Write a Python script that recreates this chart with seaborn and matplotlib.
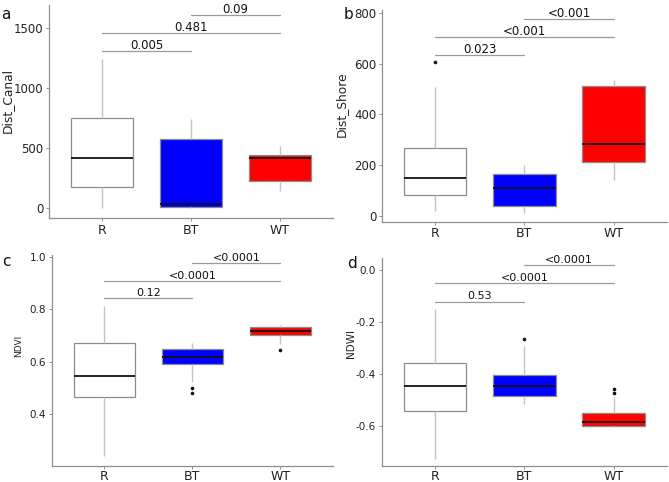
import numpy as np
import pandas as pd
import matplotlib
matplotlib.use("Agg")
import matplotlib.pyplot as plt
import seaborn as sns

sns.set_theme(style="white")
plt.rcParams["font.family"] = ["DejaVu Sans"]
plt.rcParams["axes.unicode_minus"] = False

groups = ["R", "BT", "WT"]
palette = {"R": "#FFFFFF", "BT": "#0000FF", "WT": "#FF0000"}

# Sample values per group chosen so that box quartiles, whiskers and outliers
# match the reference boxes
canal_R = [0, 90, 178, 300, 414, 580, 747, 1000, 1242]
canal_BT = [0, 3, 6, 20, 33, 300, 572, 650, 742]
canal_WT = [142, 190, 228, 320, 418, 430, 442, 480, 519]

shore_R = [20, 40, 60, 82, 100, 125, 150, 190, 230, 266, 380, 507, 606]
shore_BT = [12, 25, 40, 75, 108, 135, 164, 180, 200]
shore_WT = [141, 180, 211, 250, 282, 400, 514, 525, 536]

ndvi_R = [0.239, 0.35, 0.465, 0.5, 0.545, 0.6, 0.673, 0.75, 0.813]
ndvi_BT = [0.479, 0.498, 0.523, 0.590, 0.60, 0.61, 0.619, 0.63, 0.64, 0.6475, 0.66, 0.665, 0.673]
ndvi_WT = [0.646, 0.668, 0.69, 0.702, 0.708, 0.713, 0.718, 0.723, 0.728, 0.732, 0.736, 0.739, 0.742]

ndwi_R = [-0.727, -0.62, -0.541, -0.49, -0.446, -0.4, -0.359, -0.25, -0.151]
ndwi_BT = [-0.517, -0.505, -0.495, -0.486, -0.47, -0.455, -0.447, -0.43, -0.415, -0.405, -0.35, -0.292, -0.267]
ndwi_WT = [-0.605, -0.603, -0.601, -0.599, -0.593, -0.588, -0.583, -0.57, -0.56, -0.551, -0.487, -0.475, -0.459]

# pairwise comparisons: (group a, group b, p label)
comp_pairs = [("R", "BT"), ("R", "WT"), ("BT", "WT")]
p_canal = ["0.005", "0.481", "0.09"]
p_shore = ["0.023", "<0.001", "<0.001"]
p_ndvi = ["0.12", "<0.0001", "<0.0001"]
p_ndwi = ["0.53", "<0.0001", "<0.0001"]

yticks_a = [0, 500, 1000, 1500]
yticks_b = [0, 200, 400, 600, 800]
yticks_c = [0.4, 0.6, 0.8, 1.0]
yticks_d = [-0.6, -0.4, -0.2, 0.0]

panels = [
    dict(letter="a", ylabel="Dist_Canal", data=[canal_R, canal_BT, canal_WT], p=p_canal,
         yticks=yticks_a, fmt="{:.0f}", rect=[0.0732, 0.5477, 0.4246, 0.4419],
         ylim=(-83, 1692), bracket_y=[1308, 1456, 1608], tick_fs=8.5, xtick_fs=9,
         ann_fs=8.5, ylab_fs=8.8, ylab_pos=(-0.125, 0.55), letter_xy=(0.002, 0.985),
         xpad=1.5),
    dict(letter="b", ylabel="Dist_Shore", data=[shore_R, shore_BT, shore_WT], p=p_shore,
         yticks=yticks_b, fmt="{:.0f}", rect=[0.5706, 0.5400, 0.4264, 0.4392],
         ylim=(-24, 813), bracket_y=[634, 705, 777], tick_fs=8.5, xtick_fs=9,
         ann_fs=8.5, ylab_fs=8.8, ylab_pos=(-0.12, 0.556), letter_xy=(0.514, 0.985),
         xpad=1.5),
    dict(letter="c", ylabel="NDVI", data=[ndvi_R, ndvi_BT, ndvi_WT], p=p_ndvi,
         yticks=yticks_c, fmt="{:.1f}", rect=[0.0773, 0.0332, 0.4205, 0.4378],
         ylim=(0.2, 1.009), bracket_y=[0.843, 0.910, 0.979], tick_fs=7.5, xtick_fs=9,
         ann_fs=8, ylab_fs=6.5, ylab_pos=(-0.102, 0.569), letter_xy=(0.003, 0.474),
         xpad=0.3),
    dict(letter="d", ylabel="NDWI", data=[ndwi_R, ndwi_BT, ndwi_WT], p=p_ndwi,
         yticks=yticks_d, fmt="{:.1f}", rect=[0.5706, 0.0332, 0.4264, 0.4318],
         ylim=(-0.754, 0.046), bracket_y=[-0.122, -0.051, 0.019], tick_fs=7.5, xtick_fs=9,
         ann_fs=8, ylab_fs=7.5, ylab_pos=(-0.091, 0.59), letter_xy=(0.519, 0.468),
         xpad=0.3),
]

fig = plt.figure(figsize=(6.69, 4.82), dpi=100)
fig.patch.set_facecolor("white")

spine_col = "#8f8f8f"
for pnl in panels:
    ax = fig.add_axes(pnl["rect"])
    df = pd.DataFrame({
        "group": np.concatenate([[g] * len(v) for g, v in zip(groups, pnl["data"])]),
        "value": np.concatenate(pnl["data"]),
    })
    sns.boxplot(data=df, x="group", y="value", hue="group", order=groups,
                hue_order=groups, palette=palette, width=0.7, linewidth=0.9,
                linecolor="#8c8c8c", showcaps=False, fliersize=1.6, legend=False,
                flierprops=dict(marker="o", markerfacecolor="#111111",
                                markeredgecolor="#111111"),
                whiskerprops=dict(color="#c4c4c4", linewidth=1.0),
                medianprops=dict(color="#111111", linewidth=1.3),
                saturation=1, ax=ax)
    ax.set_xlim(-0.6, 2.6)
    ax.set_ylim(*pnl["ylim"])
    ax.set_yticks(pnl["yticks"])
    ax.set_yticklabels([pnl["fmt"].format(t) for t in pnl["yticks"]], fontsize=pnl["tick_fs"],
                       color="#222222")
    ax.set_xticks(range(3))
    ax.set_xticklabels(groups, fontsize=pnl["xtick_fs"], color="#222222")
    ax.set_xlabel("")
    ax.set_ylabel(pnl["ylabel"], fontsize=pnl["ylab_fs"], color="#222222")
    ax.yaxis.set_label_coords(*pnl["ylab_pos"])
    for s in ["top", "right"]:
        ax.spines[s].set_visible(False)
    for s in ["left", "bottom"]:
        ax.spines[s].set_color(spine_col)
        ax.spines[s].set_linewidth(0.9)
    ax.tick_params(axis="y", length=2.5, width=0.7, color=spine_col, pad=1.5, left=True)
    ax.tick_params(axis="x", length=2.5, width=0.7, color=spine_col, pad=pnl["xpad"],
                   bottom=True)
    ax.set_facecolor("white")

    for (ga, gb), lab, yb in zip(comp_pairs, pnl["p"], pnl["bracket_y"]):
        xa, xb = groups.index(ga), groups.index(gb)
        ax.plot([xa, xb], [yb, yb], color="#9a9a9a", linewidth=0.9, clip_on=False)
        ax.annotate(lab, xy=((xa + xb) / 2, yb), xytext=(0, 1.5), textcoords="offset points",
                    ha="center", va="baseline", fontsize=pnl["ann_fs"], color="#111111",
                    annotation_clip=False)

    fig.text(pnl["letter_xy"][0], pnl["letter_xy"][1], pnl["letter"], fontsize=11,
             ha="left", va="top", color="#111111")

fig.savefig("out.png", dpi=100, facecolor="white")
